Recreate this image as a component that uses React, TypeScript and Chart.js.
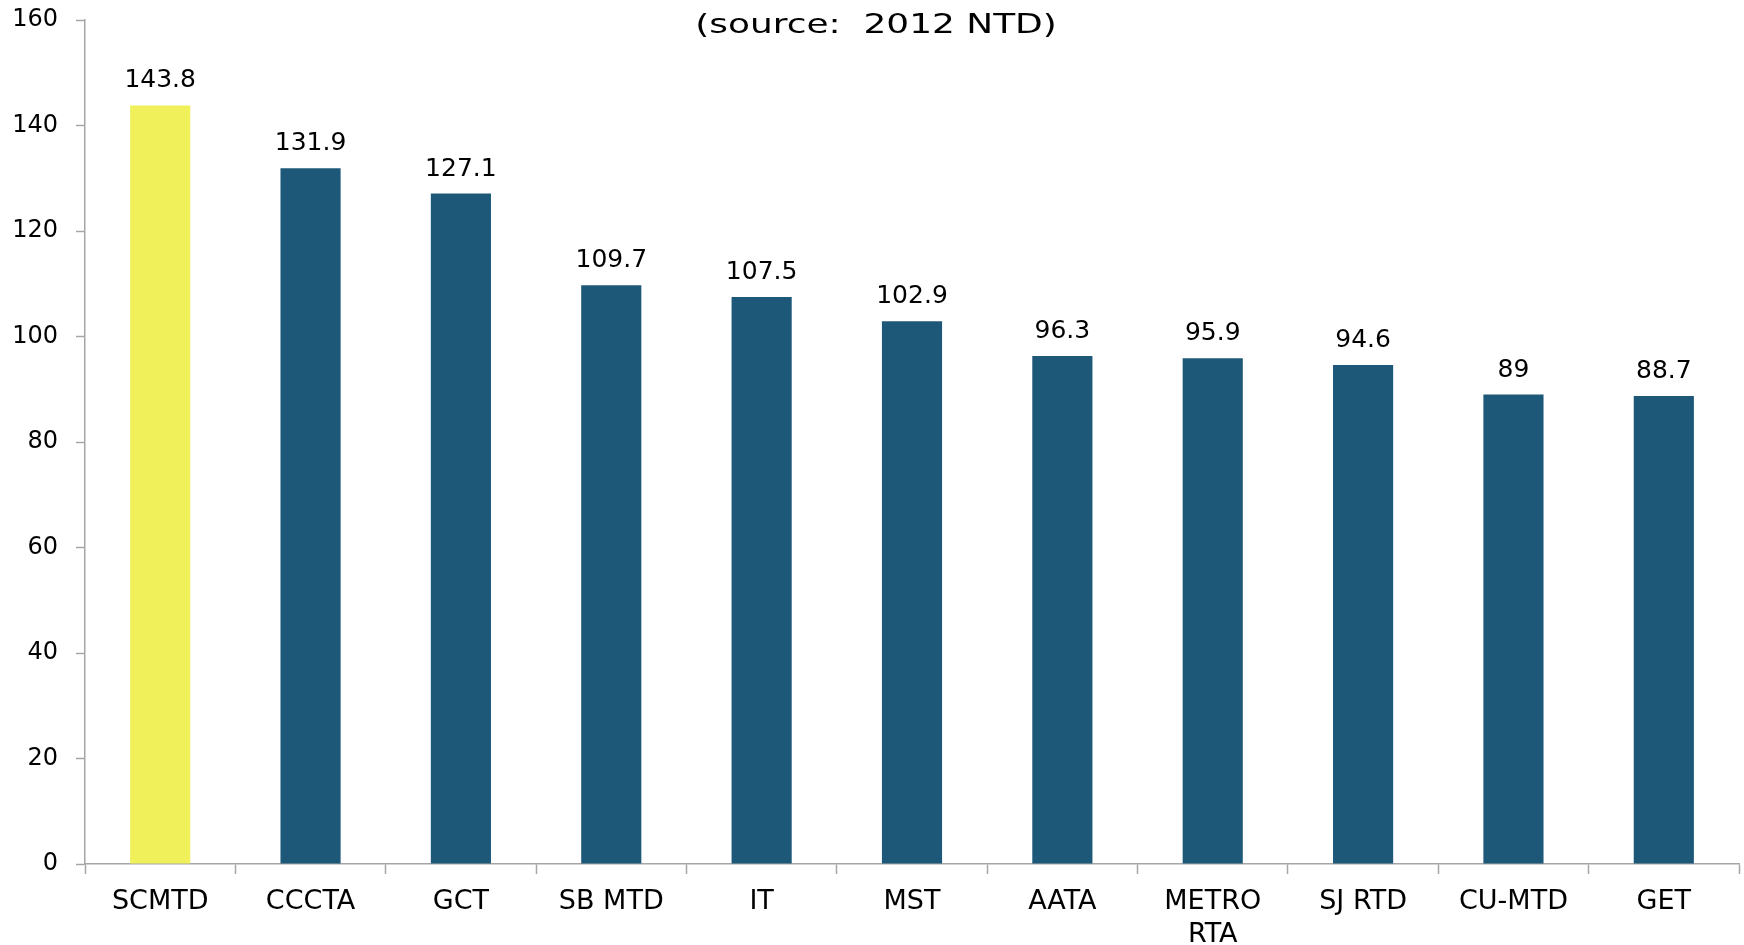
import React, { useEffect, useRef } from "react";
import { Chart, registerables } from "chart.js";

Chart.register(...registerables);

const categories: (string | string[])[] = [
  "SCMTD", "CCCTA", "GCT", "SB MTD", "IT", "MST", "AATA", ["METRO", "RTA"], "SJ RTD", "CU-MTD", "GET",
];
const values: number[] = [143.8, 131.9, 127.1, 109.7, 107.5, 102.9, 96.3, 95.9, 94.6, 89, 88.7];
const highlightIndex = 0;
const titleText = "(source:  2012 NTD)";
const yMin = 0;
const yMax = 160;
const yStep = 20;

const BLUE = "#1E5879";
const YELLOW = "#EFF05A";
const AXIS = "#A6A6A6";
const FONT = "'DejaVu Sans', Verdana, sans-serif";

const valueLabels = {
  id: "valueLabels",
  afterDatasetsDraw(chart: any) {
    const ctx = chart.ctx;
    const meta = chart.getDatasetMeta(0);
    ctx.save();
    ctx.font = `25px ${FONT}`;
    ctx.fillStyle = "#000";
    ctx.textAlign = "center";
    ctx.textBaseline = "alphabetic";
    meta.data.forEach((bar: any, i: number) => {
      const v = chart.data.datasets[0].data[i];
      ctx.fillText(String(v), bar.x, bar.y - 18);
    });
    ctx.restore();
  },
};

const stretchedTitle = {
  id: "stretchedTitle",
  afterDraw(chart: any) {
    const ctx = chart.ctx;
    ctx.save();
    ctx.font = `27px ${FONT}`;
    ctx.fillStyle = "#000";
    ctx.textAlign = "center";
    ctx.textBaseline = "alphabetic";
    ctx.translate(876, 33);
    ctx.scale(1.33, 1);
    ctx.fillText(titleText, 0, 0);
    ctx.restore();
  },
};

export default function App() {
  const ref = useRef<HTMLCanvasElement | null>(null);
  useEffect(() => {
    if (!ref.current) return;
    const chart = new Chart(ref.current, {
      type: "bar",
      data: {
        labels: categories,
        datasets: [
          {
            data: values,
            backgroundColor: values.map((_, i) => (i === highlightIndex ? YELLOW : BLUE)),
            borderWidth: 0,
            barPercentage: 0.4,
            categoryPercentage: 1,
          },
        ],
      },
      options: {
        responsive: false,
        animation: false,
        devicePixelRatio: 1,
        layout: { padding: { top: 20, left: 0, right: 5, bottom: 0 } },
        plugins: {
          legend: { display: false },
          title: { display: false },
          tooltip: { enabled: false },
        },
        scales: {
          x: {
            grid: {
              display: true,
              drawOnChartArea: false,
              drawTicks: true,
              tickLength: 10,
              tickColor: AXIS,
              tickWidth: 1.5,
              offset: true,
            },
            border: { display: true, color: AXIS, width: 1.5 },
            ticks: {
              color: "#000",
              font: { family: FONT, size: 27, lineHeight: 1.22 },
              padding: 12,
              maxRotation: 0,
              autoSkip: false,
            },
            afterFit: (s: any) => {
              s.height = 81;
              s.paddingLeft = 0;
              s.paddingRight = 0;
            },
          },
          y: {
            min: yMin,
            max: yMax,
            grid: {
              display: true,
              drawOnChartArea: false,
              drawTicks: true,
              tickLength: 9,
              tickColor: AXIS,
              tickWidth: 1.5,
            },
            border: { display: true, color: AXIS, width: 1.5 },
            ticks: {
              stepSize: yStep,
              color: "#000",
              font: { family: FONT, size: 24 },
              padding: 18,
            },
            afterFit: (s: any) => {
              s.width = 85;
              s.paddingTop = 0;
              s.paddingBottom = 0;
            },
          },
        },
      },
      plugins: [valueLabels, stretchedTitle],
    });
    return () => chart.destroy();
  }, []);
  return (
    <div style={{ position: "fixed", left: 0, top: 0, width: 1744, height: 945, background: "#fff" }}>
      <canvas ref={ref} width={1744} height={945} style={{ display: "block" }} />
    </div>
  );
}
